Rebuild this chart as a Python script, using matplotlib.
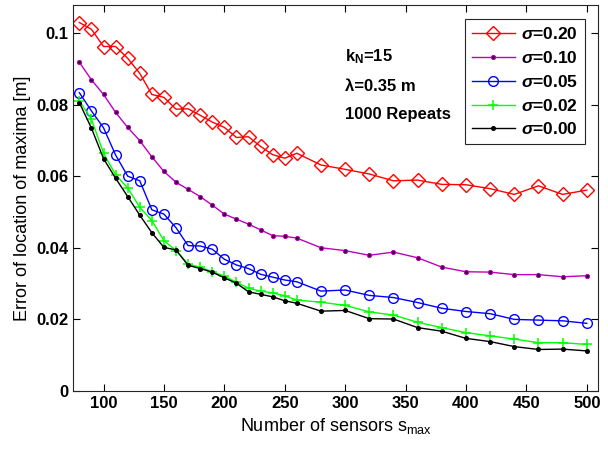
import matplotlib
matplotlib.use("Agg")
import matplotlib.pyplot as plt

# number of sensors
s_max = [80, 90, 100, 110, 120, 130, 140, 150, 160, 170, 180, 190, 200, 210, 220, 230,
         240, 250, 260, 280, 300, 320, 340, 360, 380, 400, 420, 440, 460, 480, 500]

err_020 = [0.1029, 0.1010, 0.0962, 0.0962, 0.0929, 0.0887, 0.0828, 0.0820, 0.0787, 0.0788,
           0.0770, 0.0751, 0.0736, 0.0708, 0.0710, 0.0683, 0.0660, 0.0650, 0.0664, 0.0631,
           0.0619, 0.0606, 0.0587, 0.0589, 0.0577, 0.0576, 0.0565, 0.0549, 0.0573, 0.0549, 0.0561]
err_010 = [0.0918, 0.0869, 0.0828, 0.0778, 0.0736, 0.0699, 0.0654, 0.0613, 0.0583, 0.0563,
           0.0543, 0.0519, 0.0494, 0.0480, 0.0466, 0.0450, 0.0434, 0.0432, 0.0427, 0.0400,
           0.0392, 0.0379, 0.0388, 0.0372, 0.0346, 0.0333, 0.0332, 0.0325, 0.0325, 0.0319, 0.0322]
err_005 = [0.0833, 0.0782, 0.0735, 0.0659, 0.0600, 0.0587, 0.0506, 0.0494, 0.0456, 0.0406,
           0.0405, 0.0396, 0.0368, 0.0352, 0.0342, 0.0326, 0.0318, 0.0310, 0.0305, 0.0279,
           0.0282, 0.0267, 0.0261, 0.0247, 0.0231, 0.0222, 0.0216, 0.0200, 0.0198, 0.0196, 0.0189]
err_002 = [0.0810, 0.0759, 0.0664, 0.0604, 0.0567, 0.0513, 0.0476, 0.0420, 0.0392, 0.0354,
           0.0346, 0.0333, 0.0321, 0.0304, 0.0287, 0.0279, 0.0274, 0.0266, 0.0254, 0.0248,
           0.0239, 0.0221, 0.0212, 0.0192, 0.0177, 0.0163, 0.0154, 0.0145, 0.0135, 0.0135, 0.0130]
err_000 = [0.0805, 0.0734, 0.0649, 0.0594, 0.0543, 0.0491, 0.0442, 0.0401, 0.0394, 0.0351,
           0.0342, 0.0332, 0.0316, 0.0301, 0.0277, 0.0270, 0.0263, 0.0252, 0.0245, 0.0223,
           0.0225, 0.0202, 0.0201, 0.0177, 0.0167, 0.0147, 0.0138, 0.0124, 0.0116, 0.0117, 0.0112]

labels = ["0.20", "0.10", "0.05", "0.02", "0.00"]

plt.rcParams["font.family"] = "Liberation Sans"
plt.rcParams["mathtext.fontset"] = "custom"
plt.rcParams["mathtext.rm"] = "Liberation Sans"
plt.rcParams["mathtext.it"] = "Liberation Sans:italic"
plt.rcParams["mathtext.bf"] = "Liberation Sans:bold"
plt.rcParams["mathtext.bfit"] = "Liberation Sans:italic:bold"

fig = plt.figure(figsize=(6.08, 4.51), dpi=100)
ax = fig.add_axes([0.1206, 0.133, 0.8624, 0.856])

ax.plot(s_max, err_020, color="r", lw=1, marker="D", ms=7, mfc="none", mec="r",
        label=r"$\mathbfit{\sigma}$=" + labels[0])
ax.plot(s_max, err_010, color="m", lw=1, marker="o", ms=3, mfc="#3a003a", mec="m",
        mew=0.7, label=r"$\mathbfit{\sigma}$=" + labels[1])
ax.plot(s_max, err_005, color="b", lw=1, marker="o", ms=7, mfc="none", mec="b",
        label=r"$\mathbfit{\sigma}$=" + labels[2])
ax.plot(s_max, err_002, color="#00ff00", lw=1, marker="+", ms=7, mew=1.1,
        label=r"$\mathbfit{\sigma}$=" + labels[3])
ax.plot(s_max, err_000, color="k", lw=1, marker="o", ms=2.6, mfc="k", mec="k",
        label=r"$\mathbfit{\sigma}$=" + labels[4])

ax.set_xlim(75, 509)
ax.set_ylim(0, 0.1078)
ax.set_xticks(range(100, 501, 50))
ax.set_yticks([0, 0.02, 0.04, 0.06, 0.08, 0.1])
ax.set_yticklabels(["0", "0.02", "0.04", "0.06", "0.08", "0.1"])
ax.tick_params(direction="in", top=True, right=True, labelsize=12, length=5, width=0.8)
for t in ax.get_xticklabels() + ax.get_yticklabels():
    t.set_fontweight("bold")
for sp in ax.spines.values():
    sp.set_linewidth(0.8)
    sp.set_color("#262626")

ax.set_xlabel(r"Number of sensors s$_{\mathrm{max}}$", fontsize=13)
ax.set_ylabel("Error of location of maxima [m]", fontsize=13)

# annotations
ax.text(0.518, 0.866, r"k$_\mathbf{N}$=15", transform=ax.transAxes, fontsize=12,
        fontweight="bold", va="center")
ax.text(0.518, 0.788, "λ=0.35 m", transform=ax.transAxes, fontsize=12,
        fontweight="bold", va="center")
ax.text(0.518, 0.715, "1000 Repeats", transform=ax.transAxes, fontsize=12,
        fontweight="bold", va="center")

leg = ax.legend(loc="upper right", bbox_to_anchor=(0.976, 0.963), fontsize=12.5,
                fancybox=False, edgecolor="#262626", framealpha=1, handlelength=2.5,
                borderpad=0.4, labelspacing=0.45, handletextpad=0.35, borderaxespad=0)
leg.get_frame().set_linewidth(0.8)
for t in leg.get_texts():
    t.set_fontweight("bold")

fig.savefig("out.png", dpi=100)
